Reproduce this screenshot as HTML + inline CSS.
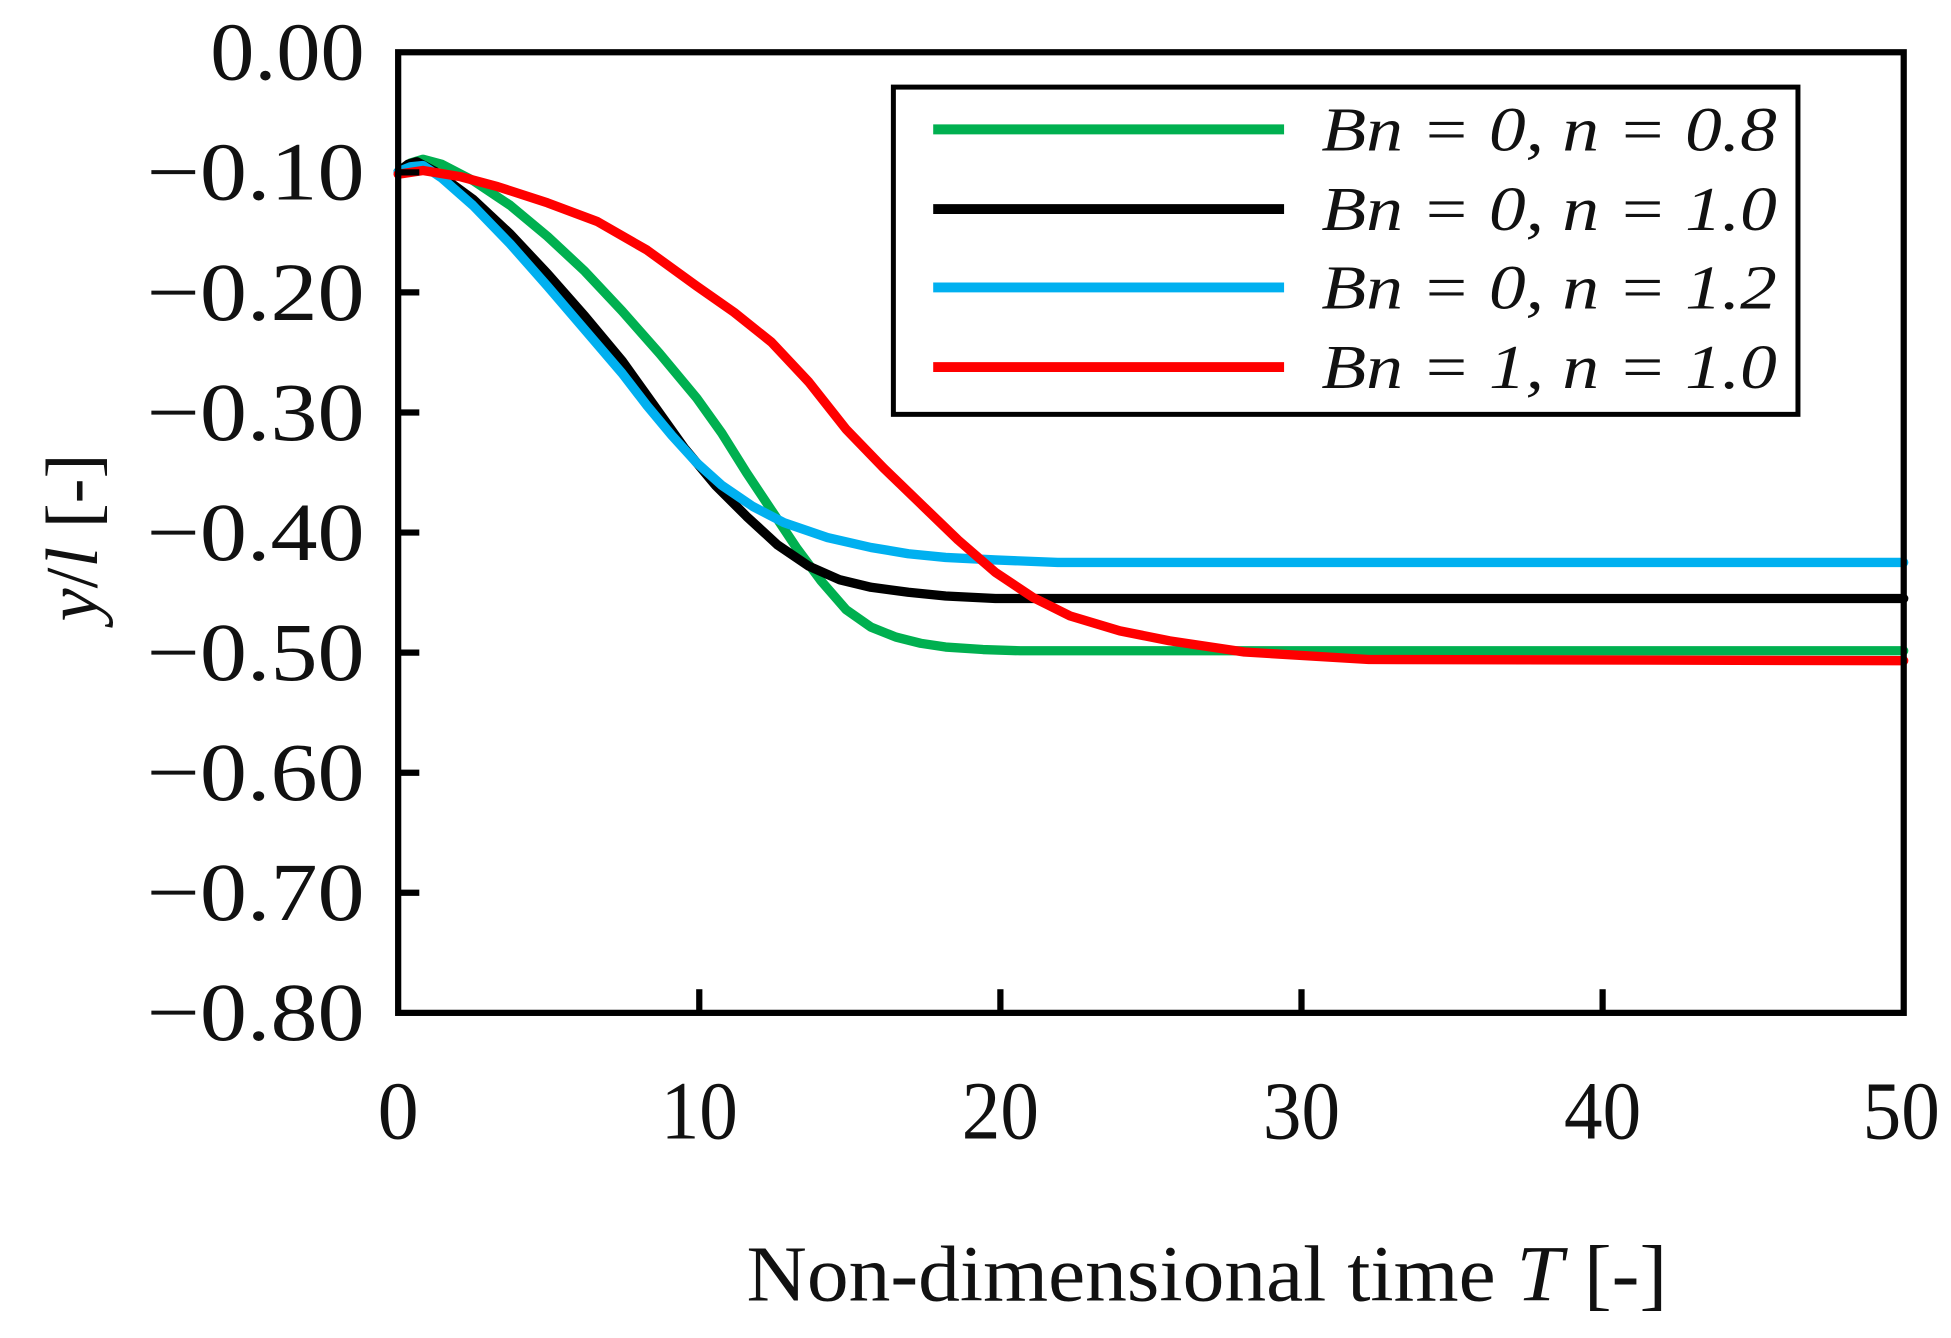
<!DOCTYPE html>
<html><head><meta charset="utf-8"><style>
html,body{margin:0;padding:0;background:#fff;}
svg{display:block;}
text{font-family:"Liberation Serif",serif;fill:#111;}
</style></head><body>
<svg width="1951" height="1338" viewBox="0 0 1568 1075.3" preserveAspectRatio="none">
<rect width="1568" height="1075.3" fill="#fff"/>
<g fill="none" stroke-width="7.5" stroke-linecap="round" stroke-linejoin="round">
<polyline stroke="#00b050" points="320,138 330,131 340,128 355,132 380,145 410,165 440,190 470,218 500,250 530,284 560,320 580,348 600,380 620,410 640,440 660,467 680,490 700,504 720,512 740,517 760,520 790,522 820,523 1530,523"/>
<polyline stroke="#000" points="320,138 328,132 335,130 350,138 380,160 410,188 440,220 470,254 500,290 525,325 550,360 575,390 600,415 625,438 650,455 675,466 700,472 730,476 760,479 800,481 1530,481"/>
<polyline stroke="#00b0f0" points="320,138 330,134 340,133 355,143 380,165 410,196 440,230 470,265 500,300 520,326 540,350 560,372 580,390 605,407 630,420 665,432 700,440 730,445 760,448 800,450 850,452 1530,452"/>
<polyline stroke="#ff0000" points="320,140 340,137 370,142 400,150 440,163 480,178 520,201 560,230 590,251 620,275 650,307 680,345 710,376 740,405 770,434 800,460 830,480 860,495 900,507 940,515 1000,524 1100,530 1530,531"/>
</g>
<rect x="320" y="42" width="1210" height="772" fill="none" stroke="#000" stroke-width="5"/>
<g stroke="#000" stroke-width="5">
<line x1="320" y1="138.5" x2="337" y2="138.5"/><line x1="320" y1="235" x2="337" y2="235"/>
<line x1="320" y1="331.5" x2="337" y2="331.5"/><line x1="320" y1="428" x2="337" y2="428"/>
<line x1="320" y1="524.5" x2="337" y2="524.5"/><line x1="320" y1="621" x2="337" y2="621"/>
<line x1="320" y1="717.5" x2="337" y2="717.5"/>
<line x1="562" y1="814" x2="562" y2="795"/><line x1="804" y1="814" x2="804" y2="795"/>
<line x1="1046" y1="814" x2="1046" y2="795"/><line x1="1288" y1="814" x2="1288" y2="795"/>
</g>
<g font-size="66" text-anchor="end">
<text x="293" y="64" textLength="124" lengthAdjust="spacingAndGlyphs">0.00</text>
<text x="293" y="160.5" textLength="175" lengthAdjust="spacingAndGlyphs">−0.10</text>
<text x="293" y="257" textLength="175" lengthAdjust="spacingAndGlyphs">−0.20</text>
<text x="293" y="353.5" textLength="175" lengthAdjust="spacingAndGlyphs">−0.30</text>
<text x="293" y="450" textLength="175" lengthAdjust="spacingAndGlyphs">−0.40</text>
<text x="293" y="546.5" textLength="175" lengthAdjust="spacingAndGlyphs">−0.50</text>
<text x="293" y="643" textLength="175" lengthAdjust="spacingAndGlyphs">−0.60</text>
<text x="293" y="739.5" textLength="175" lengthAdjust="spacingAndGlyphs">−0.70</text>
<text x="293" y="836" textLength="175" lengthAdjust="spacingAndGlyphs">−0.80</text>
</g>
<g font-size="66" text-anchor="middle">
<text x="320" y="915">0</text>
<text x="562" y="915" textLength="62" lengthAdjust="spacingAndGlyphs">10</text>
<text x="804" y="915" textLength="62" lengthAdjust="spacingAndGlyphs">20</text>
<text x="1046" y="915" textLength="62" lengthAdjust="spacingAndGlyphs">30</text>
<text x="1288" y="915" textLength="62" lengthAdjust="spacingAndGlyphs">40</text>
<text x="1528" y="915" textLength="62" lengthAdjust="spacingAndGlyphs">50</text>
</g>
<text x="600" y="1045" font-size="64" textLength="740" lengthAdjust="spacingAndGlyphs">Non-dimensional time <tspan font-style="italic">T</tspan> [-]</text>
<text transform="translate(78,432) rotate(-90)" font-size="60" text-anchor="middle"><tspan font-style="italic">y</tspan>/<tspan font-style="italic">l</tspan> [-]</text>
<rect x="718" y="70" width="727" height="263" fill="#fff" stroke="#000" stroke-width="4"/>
<g stroke-width="8">
<line x1="750" y1="104" x2="1032" y2="104" stroke="#00b050"/>
<line x1="750" y1="168" x2="1032" y2="168" stroke="#000"/>
<line x1="750" y1="231" x2="1032" y2="231" stroke="#00b0f0"/>
<line x1="750" y1="295" x2="1032" y2="295" stroke="#ff0000"/>
</g>
<g font-size="50" font-style="italic">
<text x="1062" y="121" textLength="366" lengthAdjust="spacingAndGlyphs">Bn = 0, n = 0.8</text>
<text x="1062" y="185" textLength="366" lengthAdjust="spacingAndGlyphs">Bn = 0, n = 1.0</text>
<text x="1062" y="248" textLength="366" lengthAdjust="spacingAndGlyphs">Bn = 0, n = 1.2</text>
<text x="1062" y="312" textLength="366" lengthAdjust="spacingAndGlyphs">Bn = 1, n = 1.0</text>
</g>
</svg>
</body></html>
